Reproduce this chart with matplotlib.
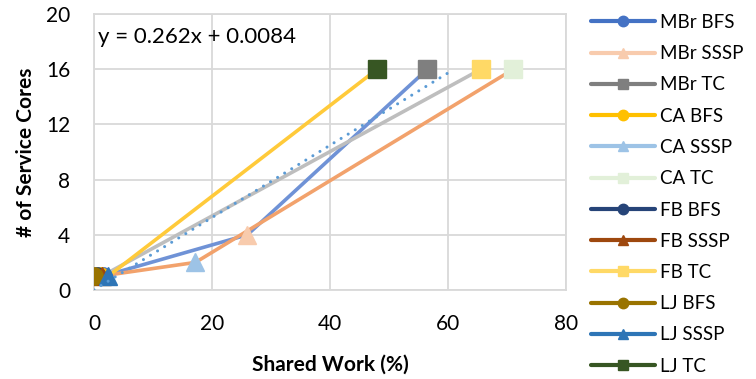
import numpy as np
import matplotlib
matplotlib.use("Agg")
import matplotlib.pyplot as plt

plt.rcParams['font.family'] = ['Lato', 'DejaVu Sans']

# Graphs and workloads
graphs = ["MBr", "CA", "FB", "LJ"]
workloads = ["BFS", "SSSP", "TC"]

# Shared work (%) per graph, per workload (BFS, SSSP, TC)
shared_work = {
    "MBr": [1.5, 26.0, 56.5],
    "CA":  [1.0, 17.2, 71.1],
    "FB":  [0.5, 1.3, 65.6],
    "LJ":  [0.0, 2.4, 48.0],
}
# Number of service cores per graph, per workload
service_cores = {
    "MBr": [1, 4, 16],
    "CA":  [1, 2, 16],
    "FB":  [1, 1, 16],
    "LJ":  [1, 1, 16],
}

# Trendline coefficients and range
slope = 0.262
intercept = 0.0084
trend_x = [0.0, 60.3]

# Styles
line_colors = {"MBr": "#6F92D6", "CA": "#F2A26C", "FB": "#BEBEBE", "LJ": "#FFCA3A"}
marker_colors = {
    ("MBr", "BFS"): "#4472C4", ("MBr", "SSSP"): "#F8CBAD", ("MBr", "TC"): "#7F7F7F",
    ("CA", "BFS"): "#FFC000", ("CA", "SSSP"): "#9DC3E6", ("CA", "TC"): "#E2F0D9",
    ("FB", "BFS"): "#264478", ("FB", "SSSP"): "#9E480E", ("FB", "TC"): "#FFD966",
    ("LJ", "BFS"): "#997300", ("LJ", "SSSP"): "#2E75B6", ("LJ", "TC"): "#375623",
}
markers = {"BFS": "o", "SSSP": "^", "TC": "s"}

fig = plt.figure(figsize=(7.56, 3.79), dpi=100)
ax = fig.add_axes([94/756, 1 - 290/379, (566 - 94)/756, (290 - 14)/379])

# Connecting lines per graph (not in legend)
for g in graphs:
    ax.plot(shared_work[g], service_cores[g], color=line_colors[g], lw=2.6,
            solid_capstyle="round", zorder=2)

# Single-point series with markers
handles = []
for g in graphs:
    for i, w in enumerate(workloads):
        c = marker_colors[(g, w)]
        ax.plot([shared_work[g][i]], [service_cores[g][i]], marker=markers[w],
                color=c, markersize=12.5, lw=0, zorder=3)
        h, = ax.plot([], [], marker=markers[w], color=c, markersize=7.5, lw=3,
                     solid_capstyle="round", label=g + " " + w)
        handles.append(h)

# Linear trendline
tx = np.array(trend_x)
ax.plot(tx, slope * tx + intercept, color="#5B9BD5", lw=2.2,
        linestyle=(0, (0.01, 2.7)), dash_capstyle="round", zorder=4)
ax.text(0.6, 18.3, "y = 0.262x + 0.0084", fontsize=16, va="center", ha="left")

# Axes decoration
ax.set_xlim(0, 80)
ax.set_ylim(0, 20)
ax.set_xticks(np.arange(0, 81, 20))
ax.set_yticks(np.arange(0, 21, 4))
ax.grid(True, color="#D9D9D9", lw=1.3)
ax.set_axisbelow(True)
for s in ax.spines.values():
    s.set_color("#D9D9D9")
    s.set_linewidth(1.3)
ax.tick_params(length=0, labelsize=15)
ax.tick_params(axis="y", pad=17)
ax.tick_params(axis="x", pad=17)
ax.set_xlabel("Shared Work (%)", fontsize=15, fontweight="bold", labelpad=15)
ax.set_ylabel("# of Service Cores", fontsize=15, fontweight="bold", labelpad=7)

fig.legend(handles=handles, loc="upper left", bbox_to_anchor=(591/756, 1 - 14/379),
           frameon=False, fontsize=13.5, handlelength=3.4, handletextpad=0.3,
           labelspacing=0.76, borderaxespad=0, borderpad=0)

fig.savefig("out.png", dpi=100)
